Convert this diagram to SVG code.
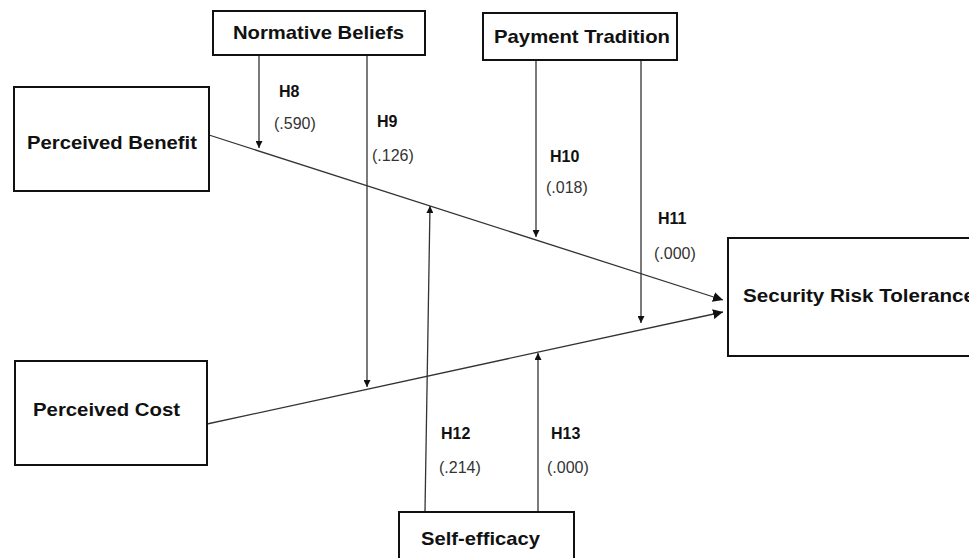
<svg xmlns="http://www.w3.org/2000/svg" width="969" height="558" viewBox="0 0 969 558">
<defs>
<style>
.box{fill:#fff;stroke:#111;stroke-width:2}
.nt{font-family:"Liberation Sans",Arial,sans-serif;font-weight:bold;font-size:19px;fill:#111}
.hl{font-family:"Liberation Sans",Arial,sans-serif;font-weight:bold;font-size:16px;fill:#111}
.vl{font-family:"Liberation Sans",Arial,sans-serif;font-size:16px;fill:#333}
.ln{stroke:#333;stroke-width:1.3;fill:none}
</style>
<marker id="ah" viewBox="0 0 10 10" refX="10" refY="5" markerWidth="7" markerHeight="7" markerUnits="userSpaceOnUse" orient="auto">
<path d="M0,0 L10,5 L0,10 z" fill="#111"/>
</marker>
<marker id="ah2" viewBox="0 0 10 10" refX="10" refY="5" markerWidth="10" markerHeight="10" markerUnits="userSpaceOnUse" orient="auto">
<path d="M0,0 L10,5 L0,10 z" fill="#111"/>
</marker>
</defs>
<rect width="969" height="558" fill="#fff"/>
<g id="connectors">
<line class="ln" x1="209" y1="135" x2="723" y2="300" marker-end="url(#ah2)"/>
<line class="ln" x1="207" y1="424" x2="723" y2="312" marker-end="url(#ah2)"/>
<line class="ln" x1="259" y1="56" x2="259" y2="148" marker-end="url(#ah)"/>
<line class="ln" x1="367" y1="56" x2="367" y2="387" marker-end="url(#ah)"/>
<line class="ln" x1="536" y1="61" x2="536" y2="237" marker-end="url(#ah)"/>
<line class="ln" x1="641" y1="61" x2="641" y2="323" marker-end="url(#ah)"/>
<line class="ln" x1="425" y1="511" x2="430" y2="206" marker-end="url(#ah)"/>
<line class="ln" x1="538" y1="511" x2="538" y2="353" marker-end="url(#ah)"/>
</g>
<g id="labels">
<text class="hl" x="279" y="97">H8</text>
<text class="vl" x="274" y="129">(.590)</text>
<text class="hl" x="377" y="127">H9</text>
<text class="vl" x="372" y="161">(.126)</text>
<text class="hl" x="550" y="162">H10</text>
<text class="vl" x="546" y="193">(.018)</text>
<text class="hl" x="658" y="224">H11</text>
<text class="vl" x="654" y="259">(.000)</text>
<text class="hl" x="441" y="439">H12</text>
<text class="vl" x="439" y="473">(.214)</text>
<text class="hl" x="551" y="439">H13</text>
<text class="vl" x="547" y="473">(.000)</text>
</g>
<g id="normative-beliefs">
<rect class="box" x="213" y="11" width="212" height="44"/>
<text class="nt" x="233" y="39" textLength="171" lengthAdjust="spacingAndGlyphs">Normative Beliefs</text>
</g>
<g id="payment-tradition">
<rect class="box" x="483" y="13" width="194" height="47"/>
<text class="nt" x="494" y="43" textLength="176" lengthAdjust="spacingAndGlyphs">Payment Tradition</text>
</g>
<g id="perceived-benefit">
<rect class="box" x="14" y="87" width="195" height="104"/>
<text class="nt" x="27" y="149" textLength="170" lengthAdjust="spacingAndGlyphs">Perceived Benefit</text>
</g>
<g id="perceived-cost">
<rect class="box" x="15" y="361" width="192" height="104"/>
<text class="nt" x="33" y="416" textLength="147" lengthAdjust="spacingAndGlyphs">Perceived Cost</text>
</g>
<g id="security-risk-tolerance">
<rect class="box" x="728" y="238" width="260" height="118"/>
<text class="nt" x="743" y="302" textLength="232" lengthAdjust="spacingAndGlyphs">Security Risk Tolerance</text>
</g>
<g id="self-efficacy">
<rect class="box" x="399" y="512" width="175" height="60"/>
<text class="nt" x="421" y="545" textLength="119" lengthAdjust="spacingAndGlyphs">Self-efficacy</text>
</g>
</svg>
